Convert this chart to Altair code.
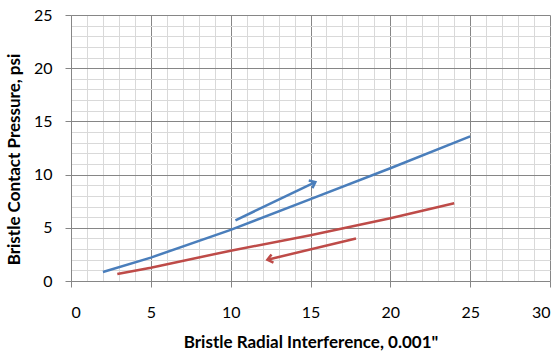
import math
import altair as alt
import pandas as pd

# Series
blue_x = [2, 5, 10, 15, 20, 25]
blue_y = [0.85, 2.2, 4.8, 7.7, 10.6, 13.6]
red_x = [2.9, 5, 10, 15, 20, 24]
red_y = [0.66, 1.25, 2.85, 4.3, 5.9, 7.3]

# Direction arrows (start, end)
blue_arrow_x = [10.3, 15.3]
blue_arrow_y = [5.7, 9.3]
red_arrow_x = [17.85, 12.3]
red_arrow_y = [4.0, 2.0]

x_ticks = [0, 5, 10, 15, 20, 25, 30]
y_ticks = [0, 5, 10, 15, 20, 25]
x_minor = [v for v in range(0, 31) if v % 5]
y_minor = [v for v in range(0, 26) if v % 5]

W, H = 479, 266
BLUE = "#4A7EBB"
RED = "#BE4B48"
MAJOR = "#868686"
MINOR = "#D9D9D9"
FONT = "Lato"

curves = pd.concat([
    pd.DataFrame({"x": blue_x, "y": blue_y, "s": "blue", "o": range(len(blue_x))}),
    pd.DataFrame({"x": red_x, "y": red_y, "s": "red", "o": range(len(red_x))}),
])
arrows = pd.concat([
    pd.DataFrame({"x": blue_arrow_x, "y": blue_arrow_y, "s": "blue", "o": [0, 1]}),
    pd.DataFrame({"x": red_arrow_x, "y": red_arrow_y, "s": "red", "o": [0, 1]}),
])

def head_angle(xs, ys):
    dx = (xs[1] - xs[0]) * W / 30.0
    dy = -(ys[1] - ys[0]) * H / 25.0
    return math.degrees(math.atan2(dy, dx)) % 360

heads = pd.DataFrame({
    "x": [blue_arrow_x[1], red_arrow_x[1]],
    "y": [blue_arrow_y[1], red_arrow_y[1]],
    "s": ["blue", "red"],
    "a": [head_angle(blue_arrow_x, blue_arrow_y), head_angle(red_arrow_x, red_arrow_y)],
})

xs = alt.Scale(domain=[0, 30], nice=False, zero=False)
ys = alt.Scale(domain=[0, 25], nice=False, zero=False)
cs = alt.Scale(domain=["blue", "red"], range=[BLUE, RED])

minor = alt.Chart(curves).mark_line(opacity=0).encode(
    x=alt.X("x:Q", scale=xs, axis=alt.Axis(values=x_minor, grid=True, gridColor=MINOR, gridWidth=1,
                                           labels=False, ticks=False, domain=False, title=None, orient="top")),
    y=alt.Y("y:Q", scale=ys, axis=alt.Axis(values=y_minor, grid=True, gridColor=MINOR, gridWidth=1,
                                           labels=False, ticks=False, domain=False, title=None, orient="right")),
)

xaxis = alt.Axis(values=x_ticks, grid=True, gridColor=MAJOR, gridWidth=1, domainColor=MAJOR,
                 tickColor=MAJOR, tickSize=6, labelPadding=17, labelFontSize=16, labelFont=FONT,
                 labelColor="#000000", title="Bristle Radial Interference, 0.001\"",
                 titleFont=FONT, titleFontSize=17, titleFontWeight="bold", titleColor="#000000",
                 titlePadding=14, orient="bottom")
yaxis = alt.Axis(values=y_ticks, grid=True, gridColor=MAJOR, gridWidth=1, domainColor=MAJOR,
                 tickColor=MAJOR, tickSize=6, labelPadding=13, labelFontSize=16, labelFont=FONT,
                 labelColor="#000000", title="Bristle Contact Pressure, psi",
                 titleFont=FONT, titleFontSize=17, titleFontWeight="bold", titleColor="#000000",
                 titlePadding=10, titleY=144, orient="left")

lines = alt.Chart(curves).mark_line(strokeWidth=2.5).encode(
    x=alt.X("x:Q", scale=xs, axis=xaxis),
    y=alt.Y("y:Q", scale=ys, axis=yaxis),
    color=alt.Color("s:N", scale=cs, legend=None),
    order="o:Q",
)

arrow_lines = alt.Chart(arrows).mark_line(strokeWidth=2.5).encode(
    x=alt.X("x:Q", scale=xs, axis=None),
    y=alt.Y("y:Q", scale=ys, axis=None),
    color=alt.Color("s:N", scale=cs, legend=None),
    detail="s:N",
    order="o:Q",
)

arrow_heads = alt.Chart(heads).mark_point(
    shape="M-1,-0.8L0,0L-1,0.8", filled=False, strokeWidth=2.5, size=110, opacity=1
).encode(
    x=alt.X("x:Q", scale=xs, axis=None),
    y=alt.Y("y:Q", scale=ys, axis=None),
    stroke=alt.Color("s:N", scale=cs, legend=None),
    angle=alt.Angle("a:Q", scale=None),
)

chart = alt.layer(minor, lines, arrow_lines, arrow_heads).resolve_axis(
    x="independent", y="independent"
).properties(
    width=W, height=H, autosize=alt.AutoSizeParams(type="none"),
    padding={"left": 71, "top": 15, "right": 10, "bottom": 73},
    background="white",
).configure_view(stroke=None)

chart.save("out.html", embed_options={"renderer": "svg", "actions": False})
